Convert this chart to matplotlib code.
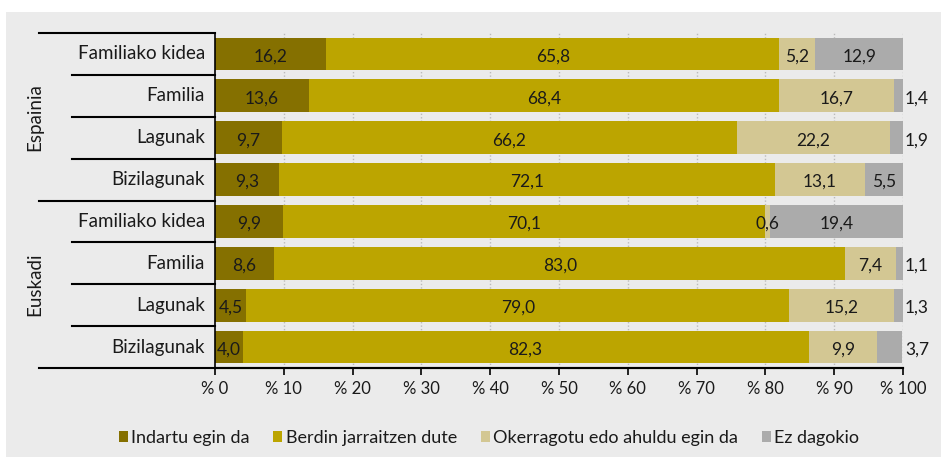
import matplotlib
matplotlib.use("Agg")
import matplotlib.pyplot as plt
from matplotlib.patches import Rectangle
from matplotlib.lines import Line2D
import numpy as np

plt.rcParams['font.family'] = ['Lato', 'DejaVu Sans']

groups = ["Espainia", "Euskadi"]
categories = ["Familiako kidea", "Familia", "Lagunak", "Bizilagunak",
              "Familiako kidea", "Familia", "Lagunak", "Bizilagunak"]
series_names = ["Indartu egin da", "Berdin jarraitzen dute",
                "Okerragotu edo ahuldu egin da", "Ez dagokio"]
indartu = [16.2, 13.6, 9.7, 9.3, 9.9, 8.6, 4.5, 4.0]
berdin = [65.8, 68.4, 66.2, 72.1, 70.1, 83.0, 79.0, 82.3]
okerragotu = [5.2, 16.7, 22.2, 13.1, 0.6, 7.4, 15.2, 9.9]
ez_dagokio = [12.9, 1.4, 1.9, 5.5, 19.4, 1.1, 1.3, 3.7]
xticks = [0, 10, 20, 30, 40, 50, 60, 70, 80, 90, 100]
xtick_labels = ["% " + str(t) for t in xticks]

colors = ["#857000", "#BCA500", "#D3C793", "#ABABAB"]
series = [indartu, berdin, okerragotu, ez_dagokio]

W, H = 941, 457
fig = plt.figure(figsize=(W / 100, H / 100), dpi=100)
fig.patch.set_facecolor("white")
fig.patches.append(Rectangle((6 / W, 0), 1, 1 - 12 / H, transform=fig.transFigure,
                             facecolor="#EBEBEB", edgecolor="none", zorder=-10))

ax_l, ax_r, ax_t, ax_b = 215, 903, 33, 368
ax = fig.add_axes([ax_l / W, 1 - ax_b / H, (ax_r - ax_l) / W, (ax_b - ax_t) / H])
ax.set_facecolor("none")

n = len(categories)
y = np.arange(n)
left = np.zeros(n)
for vals, col, name in zip(series, colors, series_names):
    vals = np.array(vals)
    ax.barh(y, vals, left=left, height=0.78, color=col, label=name, zorder=2)
    for i, v in enumerate(vals):
        txt = f"{v:.1f}".replace(".", ",")
        if name == "Ez dagokio" and v < 5:
            ax.text(100.3, i + 0.06, txt, ha="left", va="center", fontsize=12.5,
                    color="#1a1a1a", zorder=3, clip_on=False)
        else:
            ax.text(left[i] + v / 2, i + 0.06, txt, ha="center", va="center",
                    fontsize=12.5, color="#1a1a1a", zorder=3)
    left = left + vals

ax.set_xlim(0, 100)
ax.set_ylim(n - 0.5, -0.5)
ax.set_yticks([])
ax.set_xticks(xticks)
ax.set_xticklabels(xtick_labels, fontsize=12, color="#1a1a1a")
ax.tick_params(axis="x", length=5, width=1.2, color="black", pad=4)
for t in xticks[1:]:
    ax.axvline(t, color="#BBBBBB", lw=1, ls=(0, (1, 1.5)), zorder=1)

for s in ["top", "right"]:
    ax.spines[s].set_visible(False)
ax.spines["left"].set_color("black")
ax.spines["left"].set_linewidth(1.2)
ax.spines["bottom"].set_color("black")
ax.spines["bottom"].set_linewidth(1.5)

# row separator lines
row_h = (ax_b - ax_t) / n
for k in range(n + 1):
    ypix = ax_t + k * row_h
    start = 39 if k in (0, 4, n) else 72
    end = ax_r if k == n else ax_l
    fig.lines.append(Line2D([start / W, end / W], [1 - ypix / H, 1 - ypix / H],
                            transform=fig.transFigure, color="black", lw=1.5))

for i, cat in enumerate(categories):
    ax.text(-10 / (ax_r - ax_l), i, cat, transform=ax.get_yaxis_transform(),
            ha="right", va="center", fontsize=13.5, color="#1a1a1a")

for g, name in enumerate(groups):
    ax.text((35 - ax_l) / (ax_r - ax_l), g * 4 + 1.5, name,
            transform=ax.get_yaxis_transform(),
            rotation=90, ha="center", va="center", fontsize=13.5, color="#1a1a1a")

handles, labels = ax.get_legend_handles_labels()
leg = fig.legend(handles, labels, loc="center", bbox_to_anchor=(489 / W, 1 - 438 / H),
                 ncol=4, frameon=False, fontsize=13, handlelength=0.5,
                 handleheight=0.5, handletextpad=0.2, columnspacing=1.3)
for t in leg.get_texts():
    t.set_color("#1a1a1a")

fig.savefig("out.png", dpi=100, facecolor=fig.get_facecolor())
